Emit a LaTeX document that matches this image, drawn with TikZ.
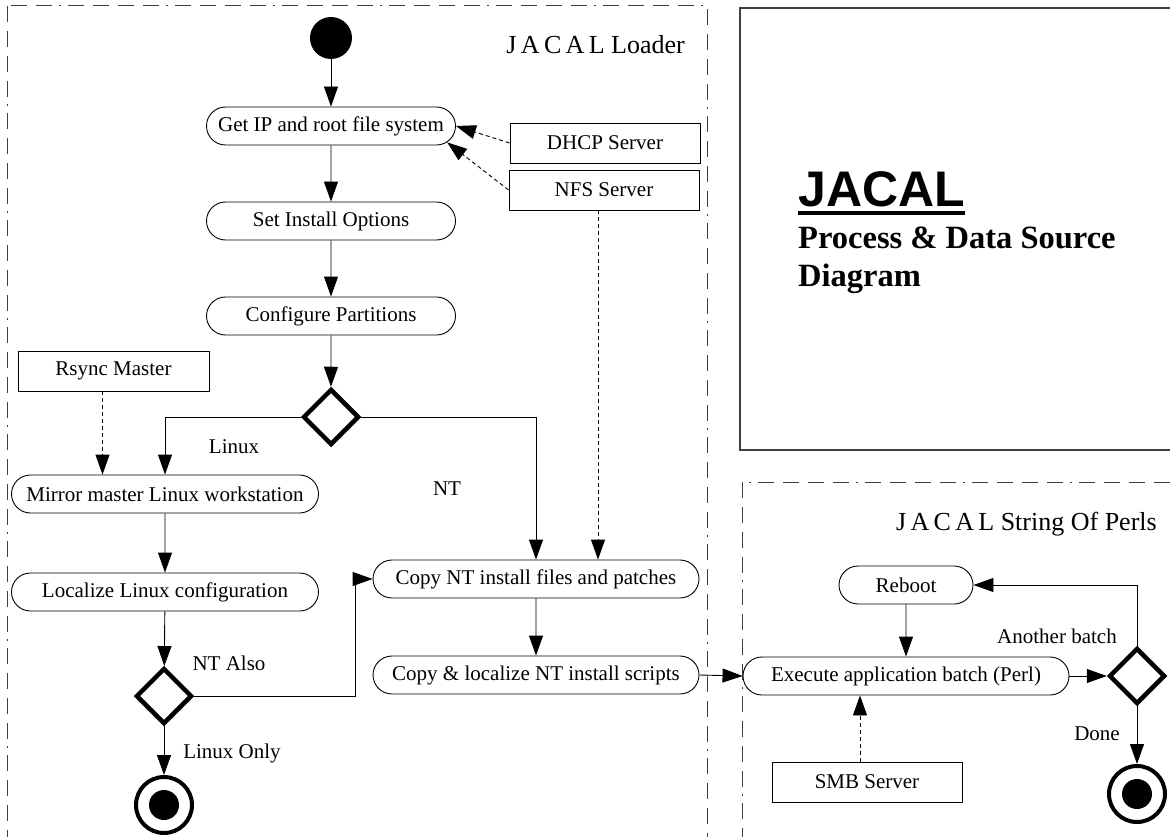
\documentclass[tikz,border=0pt]{standalone}
\usepackage{fontspec}
\setmainfont{Liberation Serif}
\newfontfamily\jtitlesans{Liberation Sans}
\usetikzlibrary{arrows.meta,shapes.geometric,shapes.misc,calc}
\newcommand{\jnodefont}{\fontsize{21}{24}\selectfont}
\newcommand{\jtitlefont}{\fontsize{26}{29}\selectfont}
\begin{document}
\begin{tikzpicture}[x=1pt,y=-1pt,
  act/.style={draw, rounded rectangle, minimum height=38pt, inner sep=0pt, font=\jnodefont, line width=0.9pt},
  src/.style={draw, rectangle, minimum height=40pt, inner sep=0pt, font=\jnodefont, line width=0.9pt},
  choice/.style={draw, diamond, minimum width=56pt, minimum height=56pt, inner sep=0pt, line width=4.5pt},
  startnode/.style={circle, fill=black, minimum size=42pt, inner sep=0pt},
  endnode/.style={circle, draw, line width=4pt, minimum size=56pt, inner sep=0pt},
  arr/.style={line width=0.9pt, -{Triangle[length=20pt,width=14pt]}},
  darr/.style={line width=0.9pt, dash pattern=on 4pt off 3pt, -{Triangle[length=20pt,width=14pt]}},
  lbl/.style={font=\jnodefont, inner sep=0pt},
  frame/.style={line width=1pt, black!75, dash pattern=on 16pt off 9pt on 16pt off 9pt on 16pt off 9pt on 16pt off 7pt on 2pt off 7pt},
  panel/.style={line width=1.2pt, black!75}
]
\useasboundingbox (0,0) rectangle (1170,837);
\clip (0,0) rectangle (1170,837);

% frames
\draw[frame] (7,6) rectangle (707,880);
\draw[frame] (742,482) rectangle (1200,880);
\draw[panel] (740,8) rectangle (1200,450);

% titles
\node[font=\jtitlefont, inner sep=0pt, anchor=base east] (tload) at (685,54) {J\,A\,C\,A\,L Loader};
\node[font=\jtitlefont, inner sep=0pt, anchor=base east] (tperl) at (1157,530) {J\,A\,C\,A\,L String Of Perls};

\node[font=\jtitlesans\bfseries\fontsize{50}{52}\selectfont, inner sep=0pt, anchor=base west] (jacal) at (798,207) {JACAL};
\draw[line width=3.5pt] ([yshift=-6pt]jacal.base west) -- ([yshift=-6pt]jacal.base east);
\node[font=\bfseries\fontsize{32.5}{35}\selectfont, inner sep=0pt, anchor=base west] (proc) at (798,248) {Process \& Data Source};
\node[font=\bfseries\fontsize{32.5}{35}\selectfont, inner sep=0pt, anchor=base west] (diag) at (798,287) {Diagram};

% nodes
\node[startnode] (start) at (331,38) {};
\node[act, minimum width=249pt] (getip) at (331,126) {Get IP and root file system};
\node[act, minimum width=249pt] (setopt) at (331,221) {Set Install Options};
\node[act, minimum width=249pt] (config) at (331,316) {Configure Partitions};
\node[choice] (d1) at (331,417) {};
\node[src, minimum width=190pt] (dhcp) at (605,143) {DHCP Server};
\node[src, minimum width=190pt] (nfs) at (604,190) {NFS Server};
\node[src, minimum width=191pt] (rsync) at (113.5,371) {Rsync Master};
\node[act, minimum width=307pt] (mirror) at (165,494) {Mirror master Linux workstation};
\node[act, minimum width=307pt] (localize) at (165,592) {Localize Linux configuration};
\node[choice] (d2) at (164,696) {};
\node[endnode] (end1) at (164,805) {};
\fill (end1.center) circle (15);
\node[act, minimum width=326pt] (copynt) at (536,579) {Copy NT install files and patches};
\node[act, minimum width=326pt] (copyloc) at (536,675) {Copy \& localize NT install scripts};
\node[act, minimum width=326pt] (exec) at (906,676) {Execute application batch (Perl)};
\node[act, minimum width=134pt] (reboot) at (906,585) {Reboot};
\node[choice] (d3) at (1137,676) {};
\node[endnode] (end2) at (1137,794) {};
\fill (end2.center) circle (15);
\node[src, minimum width=190pt] (smb) at (867,782) {SMB Server};

% labels
\node[lbl, anchor=base] (lLinux) at (234,453) {Linux};
\node[lbl, anchor=base] (lNT) at (447,495) {NT};
\node[lbl, anchor=base] (lNTAlso) at (229,670) {NT Also};
\node[lbl, anchor=base] (lLinuxOnly) at (232,758) {Linux Only};
\node[lbl, anchor=base] (lAnother) at (1057,643) {Another batch};
\node[lbl, anchor=base] (lDone) at (1097,740) {Done};

% helper points for offset dashed connectors
\coordinate (rsout) at ($(rsync.south)+(-11,0)$);
\coordinate (nfsout) at ($(nfs.south)+(-6,0)$);
\coordinate (smbout) at ($(smb.north)+(-7,0)$);

% connectors
\draw[arr] (start) -- (getip);
\draw[arr] (getip) -- (setopt);
\draw[arr] (setopt) -- (config);
\draw[arr] (config) -- (d1);
\draw[darr] (dhcp.west) -- (getip.east);
\draw[darr] (nfs.west) -- (getip.-8);
\draw[arr] (d1.west) -| (mirror.north);
\draw[arr] (d1.east) -| (copynt.north);
\draw[darr] (rsout) -- (rsout |- mirror.north);
\draw[darr] (nfsout) -- (nfsout |- copynt.north);
\draw[arr] (mirror) -- (localize);
\draw[arr] (localize) -- (d2);
\draw[arr] (d2.east) -- ++(161,0) |- (copynt.west);
\draw[arr] (d2.south) -- (end1);
\draw[arr] (copynt) -- (copyloc);
\draw[arr] (copyloc.east) -- (exec.west);
\draw[arr] (reboot) -- (exec);
\draw[arr] (exec.east) -- (d3.west);
\draw[arr] (d3.north) |- (reboot.east);
\draw[arr] (d3.south) -- (end2);
\draw[darr] (smbout) -- (smbout |- exec.south);
\end{tikzpicture}
\end{document}
